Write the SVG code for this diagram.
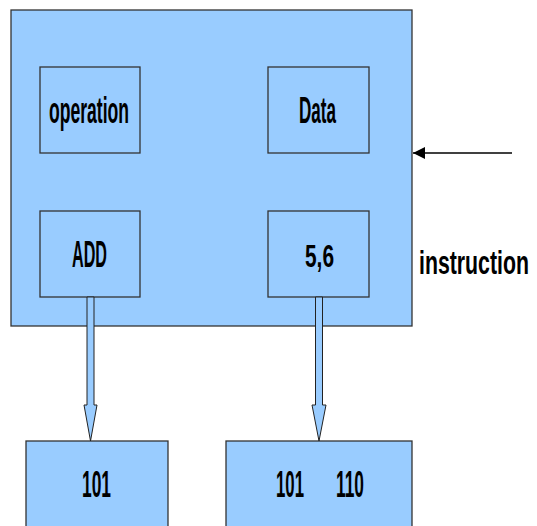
<svg xmlns="http://www.w3.org/2000/svg" width="537" height="526" viewBox="0 0 537 526">
<style>
.box{fill:#99ccff;stroke:#333;stroke-width:1.3}
.lbl{font-family:"Liberation Sans",Arial,sans-serif;font-weight:bold;fill:#000}
.blk{fill:#99ccff;stroke:#222;stroke-width:1}
</style>
<defs>
<marker id="ah" markerWidth="13" markerHeight="12" refX="12" refY="6" orient="auto" markerUnits="userSpaceOnUse">
<path d="M0,0 L12,6 L0,12 Z" fill="#000"/>
</marker>
</defs>
<rect width="537" height="526" fill="#fff"/>
<g id="instruction">
<rect class="box" x="11" y="10" width="401" height="316"/>
<text class="lbl" transform="translate(419,274) scale(0.645,1)" x="0" y="0" font-size="33">instruction</text>
</g>
<g id="operation">
<rect class="box" x="40" y="67" width="100" height="86"/>
<text class="lbl" x="49" y="123" font-size="37" textLength="80" lengthAdjust="spacingAndGlyphs">operation</text>
</g>
<g id="data">
<rect class="box" x="268" y="67" width="101" height="86"/>
<text class="lbl" x="299" y="123" font-size="37" textLength="37" lengthAdjust="spacingAndGlyphs">Data</text>
</g>
<g id="add">
<rect class="box" x="40" y="211" width="100" height="86"/>
<text class="lbl" x="72" y="267" font-size="37" textLength="35" lengthAdjust="spacingAndGlyphs">ADD</text>
</g>
<g id="operands">
<rect class="box" x="268" y="211" width="101" height="86"/>
<text class="lbl" x="305" y="267" font-size="31" textLength="29" lengthAdjust="spacingAndGlyphs">5,6</text>
</g>
<g id="out1">
<rect class="box" x="26" y="441" width="142" height="100"/>
<text class="lbl" x="82" y="497" font-size="37" textLength="29" lengthAdjust="spacingAndGlyphs">101</text>
</g>
<g id="out2">
<rect class="box" x="226" y="441" width="186" height="100"/>
<text class="lbl" x="276" y="497" font-size="37" textLength="28" lengthAdjust="spacingAndGlyphs">101</text>
<text class="lbl" x="336" y="497" font-size="37" textLength="28" lengthAdjust="spacingAndGlyphs">110</text>
</g>
<g id="connectors">
<line x1="512" y1="153" x2="413" y2="153" stroke="#000" stroke-width="1.3" marker-end="url(#ah)"/>
<path class="blk" d="M87,297 L94,297 L94,405 L97,405 L90.5,441 L84,405 L87,405 Z"/>
<path class="blk" d="M315.5,297 L322.5,297 L322.5,405 L326,405 L319,441 L312,405 L315.5,405 Z"/>
</g>
</svg>
